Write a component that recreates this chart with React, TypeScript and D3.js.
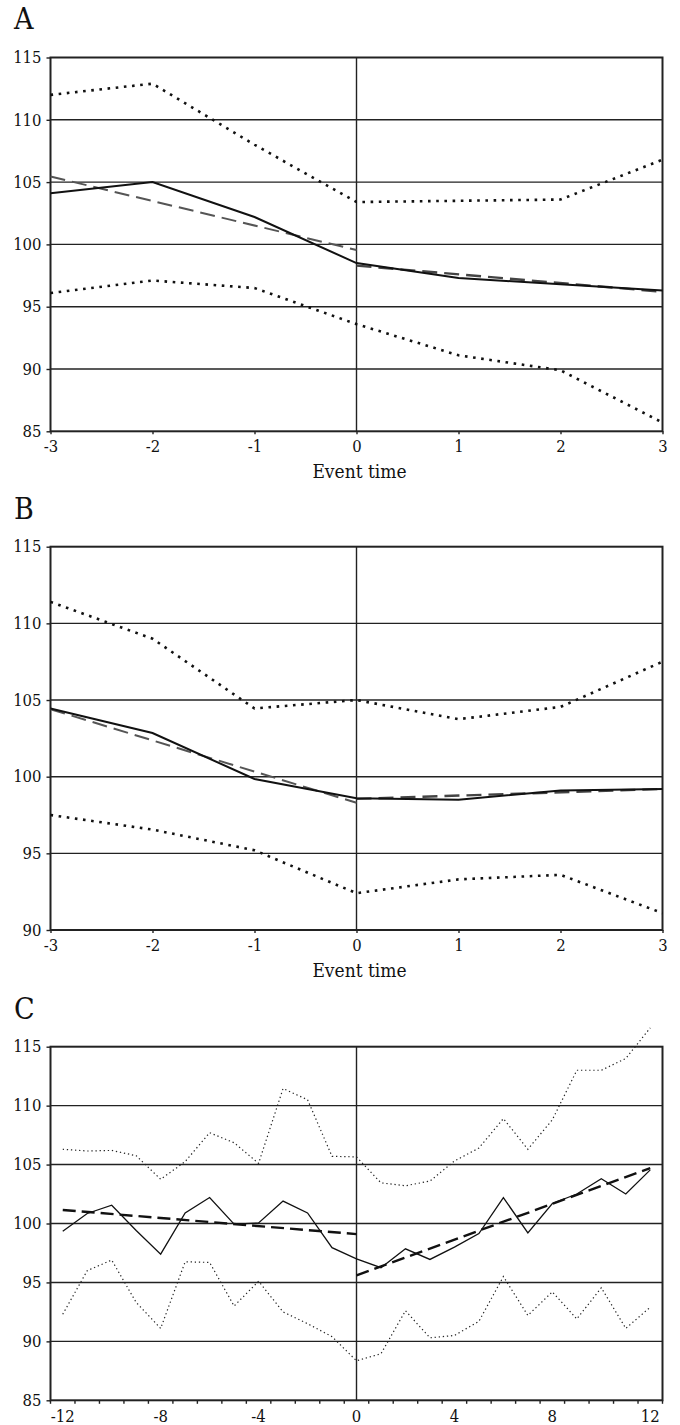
import React, { useEffect, useRef } from "react";
import * as d3 from "d3";

// event time axes
const eventTimeAB = [-3, -2, -1, 0, 1, 2, 3];
const eventTimeC = [-12, -11, -10, -9, -8, -7, -6, -5, -4, -3, -2, -1, 0, 1, 2, 3, 4, 5, 6, 7, 8, 9, 10, 11, 12];
const labelTicksC = [-12, -8, -4, 0, 4, 8, 12];

// panel A
const meanA = [104.1, 105.0, 102.2, 98.5, 97.3, 96.8, 96.3];
const upperA = [112.0, 112.9, 108.0, 103.4, 103.5, 103.6, 106.8];
const lowerA = [96.1, 97.1, 96.5, 93.6, 91.1, 89.9, 85.7];
const trendPreA = [105.45, 99.55]; // t = -3 .. 0
const trendPostA = [98.3, 96.2]; // t = 0 .. 3

// panel B
const meanB = [104.45, 102.85, 99.85, 98.6, 98.5, 99.1, 99.2];
const upperB = [111.4, 109.0, 104.45, 105.0, 103.75, 104.55, 107.5];
const lowerB = [97.5, 96.55, 95.2, 92.4, 93.3, 93.6, 91.1];
const trendPreB = [104.4, 98.3];
const trendPostB = [98.55, 99.2];

// panel C
const meanC = [99.35, 100.85, 101.55, 99.4, 97.4, 100.9, 102.2, 99.95, 100.05, 101.9, 100.9, 97.95, 97.0,
  96.25, 97.85, 96.95, 98.0, 99.15, 102.2, 99.2, 101.7, 102.5, 103.8, 102.5, 104.55];
const upperC = [106.3, 106.15, 106.2, 105.75, 103.75, 105.25, 107.7, 106.85, 105.1, 111.45, 110.5, 105.7, 105.65,
  103.45, 103.2, 103.6, 105.3, 106.4, 108.9, 106.3, 108.8, 113.0, 113.0, 114.0, 116.6];
const lowerC = [92.3, 96.0, 96.9, 93.3, 91.1, 96.75, 96.7, 93.0, 95.1, 92.5, 91.5, 90.4, 88.35,
  88.95, 92.6, 90.3, 90.5, 91.7, 95.5, 92.2, 94.2, 91.9, 94.55, 91.1, 92.9];
const trendPreC = [101.15, 99.1]; // t = -12 .. 0
const trendPostC = [95.6, 104.7]; // t = 0 .. 12

const FONT = "DejaVu Serif Condensed, DejaVu Serif";
const left = 50.5;
const right = 662.5;

function App() {
  const svgRef = useRef<SVGSVGElement>(null);

  useEffect(() => {
    const svg = d3.select(svgRef.current);
    svg.selectAll("*").remove();
    svg.style("font-family", FONT);

    const line = d3.line<[number, number]>().x(d => d[0]).y(d => d[1]);

    function styleText(sel: any, size: number) {
      sel.style("font-family", FONT).style("font-stretch", "condensed")
        .style("font-size", size + "px").attr("fill", "#111");
    }

    function frame(g: any, y: any, top: number, bottom: number, x0: number) {
      // horizontal grid
      g.selectAll(".grid")
        .data(y.ticks(6).filter((v: number) => v !== y.domain()[0] && v !== y.domain()[1]))
        .join("line")
        .attr("x1", left).attr("x2", right)
        .attr("y1", (d: number) => y(d)).attr("y2", (d: number) => y(d))
        .attr("stroke", "#222").attr("stroke-width", 1.4);
      // zero line
      g.append("line")
        .attr("x1", x0).attr("x2", x0).attr("y1", top).attr("y2", bottom)
        .attr("stroke", "#222").attr("stroke-width", 1.4);
      g.append("rect")
        .attr("x", left).attr("y", top).attr("width", right - left).attr("height", bottom - top)
        .attr("fill", "none").attr("stroke", "#222").attr("stroke-width", 2);

      const yAxis = d3.axisLeft(y).ticks(6).tickSize(4).tickPadding(5);
      const ya = g.append("g").attr("transform", `translate(${left},0)`).call(yAxis);
      ya.select(".domain").remove();
      ya.attr("font-family", null).attr("font-size", null);
      ya.selectAll("line").attr("stroke", "#222").attr("stroke-width", 1.4);
      styleText(ya.selectAll("text"), 16.5);
    }

    function series(g: any, pts: [number, number][], style: any) {
      g.append("path")
        .datum(pts)
        .attr("d", line)
        .attr("fill", "none")
        .attr("stroke", style.color)
        .attr("stroke-width", style.width)
        .attr("stroke-dasharray", style.dash || null)
        .attr("stroke-linecap", style.cap || "butt");
    }

    // ---------- panels A and B ----------
    const panelsAB = [
      { label: "A", labelY: 28.5, top: 57.5, bottom: 431.3, dom: [85, 115], mean: meanA, upper: upperA, lower: lowerA, pre: trendPreA, post: trendPostA },
      { label: "B", labelY: 518.5, top: 546.7, bottom: 930, dom: [90, 115], mean: meanB, upper: upperB, lower: lowerB, pre: trendPreB, post: trendPostB },
    ];

    const x = d3.scaleLinear().domain([-3, 3]).range([left, right]);

    panelsAB.forEach(p => {
      const g = svg.append("g");
      const y = d3.scaleLinear().domain(p.dom).range([p.bottom, p.top]);

      styleText(g.append("text").attr("x", 14).attr("y", p.labelY).text(p.label), 30);

      frame(g, y, p.top, p.bottom, x(0));

      const xAxis = d3.axisBottom(x).ticks(6).tickSize(3).tickPadding(6).tickFormat(d3.format("d"));
      const xa = g.append("g").attr("transform", `translate(0,${p.bottom})`).call(xAxis);
      xa.select(".domain").remove();
      xa.attr("font-family", null).attr("font-size", null);
      xa.selectAll("line").attr("stroke", "#222").attr("stroke-width", 1.4);
      styleText(xa.selectAll("text").text((d: any) => String(d).replace("−", "-")), 16.5);

      styleText(g.append("text").attr("x", (left + right) / 2 + 3).attr("y", p.bottom + 47)
        .attr("text-anchor", "middle").text("Event time"), 19);

      const dotStyle = { color: "#111", width: 2.6, dash: "2.6,5.6" };
      series(g, eventTimeAB.map((t, i) => [x(t), y(p.upper[i])] as [number, number]), dotStyle);
      series(g, eventTimeAB.map((t, i) => [x(t), y(p.lower[i])] as [number, number]), dotStyle);
      series(g, [[x(-3), y(p.pre[0])], [x(0), y(p.pre[1])]], { color: "#555", width: 2, dash: "15,7" });
      series(g, [[x(0), y(p.post[0])], [x(3), y(p.post[1])]], { color: "#444", width: 2.4, dash: "15,7" });
      series(g, eventTimeAB.map((t, i) => [x(t), y(p.mean[i])] as [number, number]), { color: "#111", width: 2 });
    });

    // ---------- panel C ----------
    const top = 1046.7, bottom = 1400.3;
    const g = svg.append("g");
    const y = d3.scaleLinear().domain([85, 115]).range([bottom, top]);
    const xb = d3.scaleBand<number>().domain(eventTimeC).range([left, right]).paddingInner(0).paddingOuter(0);
    const xc = (t: number) => (xb(t) as number) + xb.bandwidth() / 2;

    styleText(g.append("text").attr("x", 14).attr("y", 1019).text("C"), 30);

    frame(g, y, top, bottom, xc(0));

    // category boundary ticks
    const bounds = eventTimeC.map(t => xb(t) as number).concat([right]);
    g.selectAll(".ctick").data(bounds).join("line")
      .attr("x1", (d: number) => d).attr("x2", (d: number) => d)
      .attr("y1", bottom).attr("y2", bottom + 3.5)
      .attr("stroke", "#222").attr("stroke-width", 1.4);
    styleText(g.selectAll(".clab").data(labelTicksC).join("text")
      .attr("x", (d: number) => xc(d)).attr("y", bottom + 21.5)
      .attr("text-anchor", "middle")
      .text((d: number) => String(d)), 16.5);

    const thinDot = { color: "#222", width: 1.2, dash: "1.3,2.8" };
    series(g, eventTimeC.map((t, i) => [xc(t), y(upperC[i])] as [number, number]), thinDot);
    series(g, eventTimeC.map((t, i) => [xc(t), y(lowerC[i])] as [number, number]), thinDot);
    series(g, eventTimeC.map((t, i) => [xc(t), y(meanC[i])] as [number, number]), { color: "#111", width: 1.3 });
    series(g, [[xc(-12), y(trendPreC[0])], [xc(0), y(trendPreC[1])]], { color: "#111", width: 2.4, dash: "13,6" });
    series(g, [[xc(0), y(trendPostC[0])], [xc(12), y(trendPostC[1])]], { color: "#111", width: 2.4, dash: "13,6" });
  }, []);

  return (
    <svg
      ref={svgRef}
      width={680}
      height={1425}
      style={{ position: "absolute", left: 0, top: 0, background: "#fff" }}
    />
  );
}

export default App;
